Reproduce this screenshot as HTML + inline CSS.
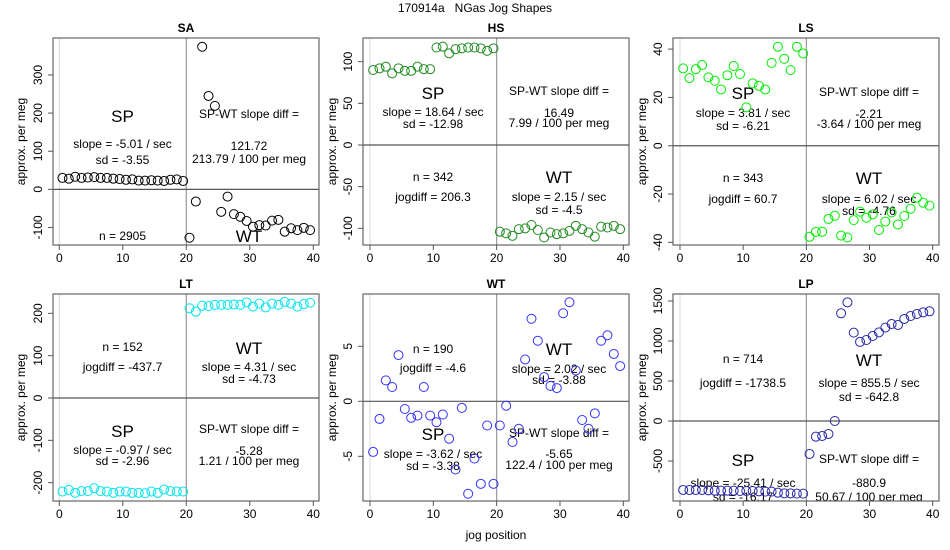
<!DOCTYPE html>
<html><head><meta charset="utf-8"><style>
html,body{margin:0;padding:0;background:#fff;}
svg{display:block;font-family:"Liberation Sans",sans-serif;}
</style></head><body>
<svg id="chart" width="950" height="550" viewBox="0 0 950 550">
<text x="475" y="12" text-anchor="middle" font-size="12" fill="#000" style="white-space:pre">170914a&#160;&#160;&#160;NGas Jog Shapes</text>
<text x="496" y="539" text-anchor="middle" font-size="12" fill="#000">jog position</text>
</svg>
<script>
const xPos = [0.5,1.5,2.5,3.5,4.5,5.5,6.5,7.5,8.5,9.5,10.5,11.5,12.5,13.5,14.5,15.5,16.5,17.5,18.5,19.5,20.5,21.5,22.5,23.5,24.5,25.5,26.5,27.5,28.5,29.5,30.5,31.5,32.5,33.5,34.5,35.5,36.5,37.5,38.5,39.5];
const xTicks = [0,10,20,30,40];
const panelNames = ["SA","HS","LS","LT","WT","LP"];
const saValues = [30,28,33,30,31,32,30,30,28,27,25,26,23,23,24,23,22,25,26,22,-127,-32,374,245,219,-59,-19,-65,-72,-83,-98,-94,-95,-82,-80,-111,-102,-107,-101,-107];
const hsValues = [90,92,94,86,92,89,89,94,91,91,117,118,110,115,116,117,117,116,113,116,-104,-106,-109,-101,-100,-96,-102,-111,-105,-107,-106,-103,-97,-101,-105,-110,-98,-99,-97,-101];
const lsValues = [32,28,31.7,33.4,28.3,26.9,23.3,29.2,33,29.7,15.9,25.8,24.8,23.3,34.3,41,36,31.3,41,38.2,-37.7,-35.7,-35.6,-30.3,-29,-37.2,-38,-30.8,-27.3,-29.8,-28.4,-34.9,-31.4,-27.6,-32.6,-29.1,-26.1,-21.5,-23.6,-24.8];
const ltValues = [-221,-217,-224,-220,-220,-213,-220,-221,-224,-221,-221,-224,-224,-225,-221,-224,-216,-220,-221,-221,212,204,218,217,220,220,220,221,220,226,216,223,214,223,220,227,223,216,222,225];
const wtValues = [-4.6,-1.6,1.9,1.3,4.2,-0.7,-1.5,-1.3,1.3,-1.3,-1.9,-1.2,-3.4,-6.2,-0.6,-8.4,-5.2,-7.5,-2.2,-7.5,-2.2,-0.4,-3.7,-2.5,3.8,7.5,5.5,2.2,1.4,1.2,8,9,2.8,-1.7,-2.5,-1.1,5.5,6,4.3,3.2];
const lpValues = [-862,-862,-862,-862,-867,-871,-871,-871,-871,-875,-875,-875,-879,-883,-883,-896,-904,-904,-908,-908,-412,-196,-187,-162,0,1346,1483,1104,988,1012,1062,1108,1167,1212,1200,1275,1312,1337,1358,1371];
const saTicks = [-100,0,100,200,300];
const hsTicks = [-100,-50,0,50,100];
const lsTicks = [-40,-20,0,20,40];
const ltTicks = [-200,-100,0,100,200];
const wtTicks = [-5,0,5];
const lpTicks = [-500,0,500,1000,1500];

const NS="http://www.w3.org/2000/svg";
const svg=document.getElementById('chart');
function mk(tag,attrs,parent){const e=document.createElementNS(NS,tag);for(const k in attrs)e.setAttribute(k,attrs[k]);(parent||svg).appendChild(e);return e;}

const cols=[{x0:59.3,x40:313.3,left:53,right:319,ylab:25,tickx:42},{x0:370,x40:623.3,left:363,right:629,ylab:336,tickx:352},{x0:680,x40:932.7,left:673,right:939,ylab:646,tickx:662}];
const rows=[{top:38,bottom:245,title:32,xt:262},{top:294,bottom:501,title:288,xt:518}];
const panels=[
 {vals:saValues,ticks:saTicks,ymin:-146,ymax:397,color:"#000000",col:0,row:0,texts:[["SP",122.5,122,17],["slope = -5.01 / sec",122.5,148,12],["sd = -3.55",122.5,164,12],["SP-WT slope diff =",249,118,12],["121.72",249,150,12],["213.79 / 100 per meg",249,163,12],["n = 2905",122.5,240,12],["WT",249,242,17]]},
 {vals:hsValues,ticks:hsTicks,ymin:-120,ymax:128.4,color:"#228B22",col:1,row:0,texts:[["SP",433,99,17],["slope = 18.64 / sec",433,116,12],["sd = -12.98",433,128,12],["SP-WT slope diff =",559,95,12],["16.49",559,117,12],["7.99 / 100 per meg",559,127,12],["n = 342",433,181,12],["jogdiff = 206.3",433,201,12],["WT",559,183,17],["slope = 2.15 / sec",559,201,12],["sd = -4.5",559,214,12]]},
 {vals:lsValues,ticks:lsTicks,ymin:-41.1,ymax:44.6,color:"#00EE00",col:2,row:0,texts:[["SP",743,99,17],["slope = 3.81 / sec",743,117,12],["sd = -6.21",743,130,12],["SP-WT slope diff =",869,96,12],["-2.21",869,118,12],["-3.64 / 100 per meg",869,128,12],["n = 343",743,182,12],["jogdiff = 60.7",743,203,12],["WT",869,184,17],["slope = 6.02 / sec",869,203,12],["sd = -4.76",869,215,12]]},
 {vals:ltValues,ticks:ltTicks,ymin:-243.3,ymax:245.7,color:"#00E5EE",col:0,row:1,texts:[["n = 152",122.5,351,12],["jogdiff = -437.7",122.5,371,12],["WT",249,354,17],["slope = 4.31 / sec",249,371,12],["sd = -4.73",249,383,12],["SP",122.5,437,17],["slope = -0.97 / sec",122.5,454,12],["sd = -2.96",122.5,465,12],["SP-WT slope diff =",249,433,12],["-5.28",249,455,12],["1.21 / 100 per meg",249,465,12]]},
 {vals:wtValues,ticks:wtTicks,ymin:-9.06,ymax:9.75,color:"#3333FF",col:1,row:1,texts:[["n = 190",433,353,12],["jogdiff = -4.6",433,372,12],["WT",559,355,17],["slope = 2.02 / sec",559,373,12],["sd = -3.88",559,384,12],["SP",433,440,17],["slope = -3.62 / sec",433,458,12],["sd = -3.38",433,470,12],["SP-WT slope diff =",559,437,12],["-5.65",559,458,12],["122.4 / 100 per meg",559,469,12]]},
 {vals:lpValues,ticks:lpTicks,ymin:-1000,ymax:1587,color:"#2828A8",col:2,row:1,texts:[["n = 714",743,363,12],["jogdiff = -1738.5",743,387,12],["WT",869,366,17],["slope = 855.5 / sec",869,387,12],["sd = -642.8",869,401,12],["SP",743,466,17],["slope = -25.41 / sec",743,487,12],["sd = -16.17",743,501,12],["SP-WT slope diff =",869,463,12],["-880.9",869,487,12],["50.67 / 100 per meg",869,501,12]]}
];

panels.forEach((p,i)=>{
 const c=cols[p.col], r=rows[p.row];
 const name=panelNames[i].toLowerCase();
 const xs=v=>c.x0+(c.x40-c.x0)*v/40;
 const ys=v=>r.bottom-(v-p.ymin)/(p.ymax-p.ymin)*(r.bottom-r.top);
 const g=mk('g',{});
 
 
 const clipId='clip'+i;
 const cp=mk('clipPath',{id:clipId},g);
 mk('rect',{x:c.left,y:r.top,width:c.right-c.left,height:r.bottom-r.top},cp);
 const t=mk('text',{x:(c.left+c.right)/2,y:r.title,'text-anchor':'middle','font-size':12,'font-weight':'bold'},g);
 t.textContent=panelNames[i];
 
 
 const inner=mk('g',{'clip-path':'url(#'+clipId+')'},g);
 mk('line',{x1:xs(0),x2:xs(0),y1:r.top,y2:r.bottom,stroke:'#d8d8d8','stroke-width':1},inner);
 const v20=mk('line',{x1:xs(20),x2:xs(20),y1:r.top,y2:r.bottom,stroke:'#999','stroke-width':1.2},inner);
 
 
 const h0=mk('line',{x1:c.left,x2:c.right,y1:ys(0),y2:ys(0),stroke:'#555','stroke-width':1.2},inner);
 
 
 p.texts.forEach(tx=>{
  const e=mk('text',{x:tx[1],y:tx[2],'text-anchor':'middle','font-size':tx[3],fill:'#000'},inner);
  e.textContent=tx[0];
  
  
 });
 p.vals.forEach((v,k)=>{
  const ci=mk('circle',{cx:xs(xPos[k]),cy:ys(v),r:4.5,fill:'none',stroke:p.color,'stroke-width':1},inner);
  
  
 });
 const box=mk('rect',{x:c.left,y:r.top,width:c.right-c.left,height:r.bottom-r.top,fill:'none',stroke:'#666','stroke-width':1.2},g);
 
 
 xTicks.forEach(tv=>{
  mk('line',{x1:xs(tv),x2:xs(tv),y1:r.bottom,y2:r.bottom+5,stroke:'#555'},g);
  const e=mk('text',{x:xs(tv),y:r.xt,'text-anchor':'middle','font-size':12},g);
  e.textContent=tv;
  
  
 });
 p.ticks.forEach(tv=>{
  const y=ys(tv);
  mk('line',{x1:c.left-5,x2:c.left,y1:y,y2:y,stroke:'#555'},g);
  const e=mk('text',{x:c.tickx,y:y,'text-anchor':'middle','font-size':12,transform:'rotate(-90 '+c.tickx+' '+y+')'},g);
  e.textContent=tv;
  
  
 });
 const yl=(r.top+r.bottom)/2;
 const ya=mk('text',{x:c.ylab,y:yl,'text-anchor':'middle','font-size':12,transform:'rotate(-90 '+c.ylab+' '+yl+')'},g);
 ya.textContent='approx. per meg';
 
 
});
</script>
</body></html>
